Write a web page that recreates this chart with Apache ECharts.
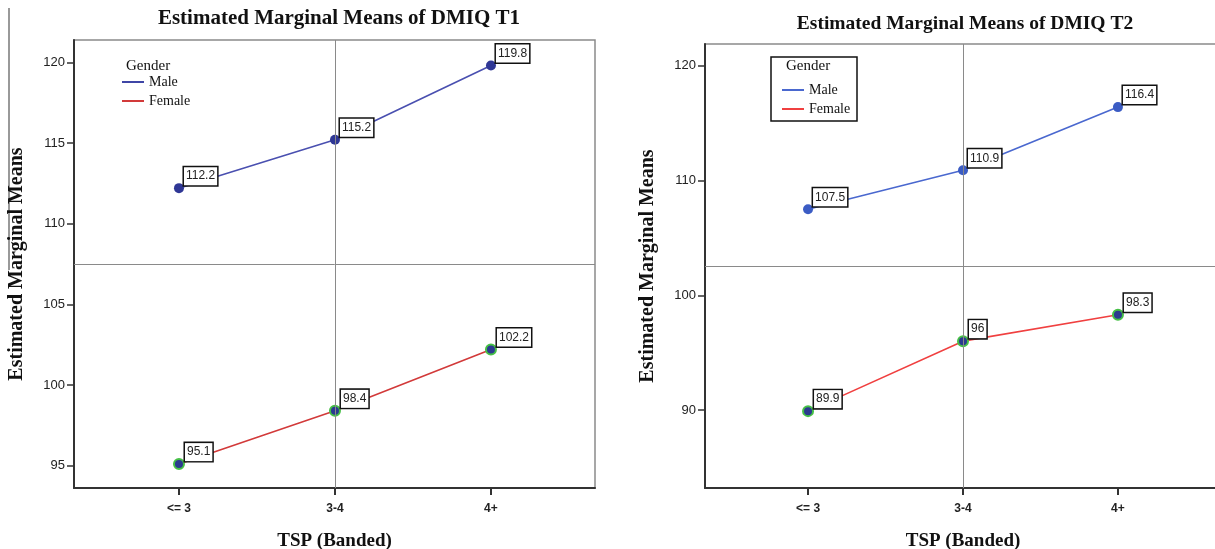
<!DOCTYPE html>
<html>
<head>
<meta charset="utf-8">
<script src="https://cdn.jsdelivr.net/npm/echarts@6/dist/echarts.min.js"></script>
<style>html,body{margin:0;padding:0;background:#fff}#c{width:1215px;height:549px}</style>
</head>
<body>
<div id="c"></div>
<script>
const categories = ['<= 3', '3-4', '4+'];
const t1Male = [112.2, 115.2, 119.8];
const t1Female = [95.1, 98.4, 102.2];
const t2Male = [107.5, 110.9, 116.4];
const t2Female = [89.9, 96, 98.3];
const t1Ticks = [95, 100, 105, 110, 115, 120];
const t2Ticks = [90, 100, 110, 120];
const titles = ['Estimated Marginal Means of DMIQ T1', 'Estimated Marginal Means of DMIQ T2'];

const serif = '"Liberation Serif", "DejaVu Serif", serif';
const sans = '"Liberation Sans", Arial, sans-serif';

function pts(arr) { return arr.map((v, i) => [i, v]); }

function xAxis(gi, min, max) {
  return {
    type: 'value', gridIndex: gi, min: min, max: max,
    name: 'TSP (Banded)', nameLocation: 'middle', nameGap: 44,
    nameTextStyle: { fontFamily: serif, fontWeight: 'bold', fontSize: 19, color: '#111' },
    axisLine: { onZero: false, lineStyle: { color: '#333', width: 2 } },
    axisTick: { customValues: [0, 1, 2], length: 7, lineStyle: { color: '#333', width: 2 } },
    axisLabel: { customValues: [0, 1, 2], formatter: v => categories[Math.round(v)], fontFamily: sans, fontSize: 12, fontWeight: 'bold', color: '#222', margin: 15 },
    splitLine: { show: false }
  };
}
function yAxis(gi, min, max, ticks) {
  return {
    type: 'value', gridIndex: gi, min: min, max: max,
    name: 'Estimated Marginal Means', nameLocation: 'middle', nameGap: 47,
    nameTextStyle: { fontFamily: serif, fontWeight: 'bold', fontSize: 20, color: '#111' },
    axisLine: { show: true, onZero: false, lineStyle: { color: '#333', width: 2 } },
    axisTick: { show: true, customValues: ticks, length: 7, lineStyle: { color: '#333', width: 1.5 } },
    axisLabel: { customValues: ticks, fontFamily: sans, fontSize: 13, color: '#222', margin: 9 },
    splitLine: { show: false }
  };
}
const lbl = {
  show: true, position: 'right', distance: 0, offset: [0, -12],
  fontFamily: sans, fontSize: 12, color: '#222',
  backgroundColor: '#fff', borderColor: '#111', borderWidth: 1.5, padding: [4, 2, 2, 2]
};
function refLines(yv) {
  return {
    silent: true, symbol: 'none', label: { show: false },
    lineStyle: { color: '#8a8a8a', width: 1, type: 'solid' },
    data: [{ yAxis: yv }, { xAxis: 1 }]
  };
}
function line(name, xi, data, lineColor, sym, symBorder, ml) {
  const s = {
    name: name, type: 'line', xAxisIndex: xi, yAxisIndex: xi, data: pts(data),
    symbol: 'circle', symbolSize: 10,
    lineStyle: { color: lineColor, width: 1.6 },
    itemStyle: { color: sym, borderColor: symBorder || sym, borderWidth: symBorder ? 2 : 0 },
    label: lbl, animation: false, z: 3
  };
  if (ml) s.markLine = ml;
  return s;
}
function legItem(name, color) {
  return { name: name, itemStyle: { color: color, borderWidth: 0 } };
}

const chart = echarts.init(document.getElementById('c'));
chart.setOption({
  animation: false,
  title: [
    { text: titles[0], left: 334, top: 3, textAlign: 'center', textStyle: { fontFamily: serif, fontWeight: 'bold', fontSize: 21, color: '#111' } },
    { text: titles[1], left: 960, top: 9, textAlign: 'center', textStyle: { fontFamily: serif, fontWeight: 'bold', fontSize: 19.5, color: '#111' } }
  ],
  grid: [
    { left: 74, top: 40, width: 521, height: 448, outerBoundsMode: 'none', show: true, borderColor: '#8a8a8a', borderWidth: 1.5, backgroundColor: '#fff' },
    { left: 705, top: 44, width: 516, height: 444, outerBoundsMode: 'none', show: true, borderColor: '#8a8a8a', borderWidth: 1.5, backgroundColor: '#fff' }
  ],
  xAxis: [xAxis(0, -0.673, 2.667), xAxis(1, -0.665, 2.665)],
  yAxis: [yAxis(0, 93.62, 121.38, t1Ticks), yAxis(1, 83.2, 121.9, t2Ticks)],
  legend: [
    { orient: 'vertical', left: 117, top: 70, itemGap: 5, itemWidth: 22, itemHeight: 2, icon: 'rect',
      textStyle: { fontFamily: serif, fontSize: 14, color: '#111' },
      data: [legItem('Male', '#3f46a6'), legItem('Female', '#d23a3a')] },
    { orient: 'vertical', left: 777, top: 78, itemGap: 5, itemWidth: 22, itemHeight: 2, icon: 'rect',
      textStyle: { fontFamily: serif, fontSize: 14, color: '#111' },
      data: [legItem('Male', '#4a68cf'), legItem('Female', '#f04040')] }
  ],
  graphic: [
    { type: 'line', shape: { x1: 9, y1: 8, x2: 9, y2: 270 }, style: { stroke: '#777', lineWidth: 1.5 } },
    { type: 'text', left: 126, top: 59, style: { text: 'Gender', font: '15px ' + serif, fill: '#111' } },
    { type: 'rect', shape: { x: 771, y: 57, width: 86, height: 64 }, style: { fill: 'none', stroke: '#111', lineWidth: 1.5 }, z: 10 },
    { type: 'text', left: 786, top: 59, style: { text: 'Gender', font: '15px ' + serif, fill: '#111' } }
  ],
  series: [
    line('Male', 0, t1Male, '#4a50b0', '#2f3795', null, refLines(107.5)),
    line('Female', 0, t1Female, '#d23a3a', '#2b3a8f', '#46c046'),
    line('Male', 1, t2Male, '#4a68cf', '#3b5cc4', null, refLines(102.55)),
    line('Female', 1, t2Female, '#f04040', '#2b3a8f', '#46c046')
  ]
});
</script>
</body>
</html>
